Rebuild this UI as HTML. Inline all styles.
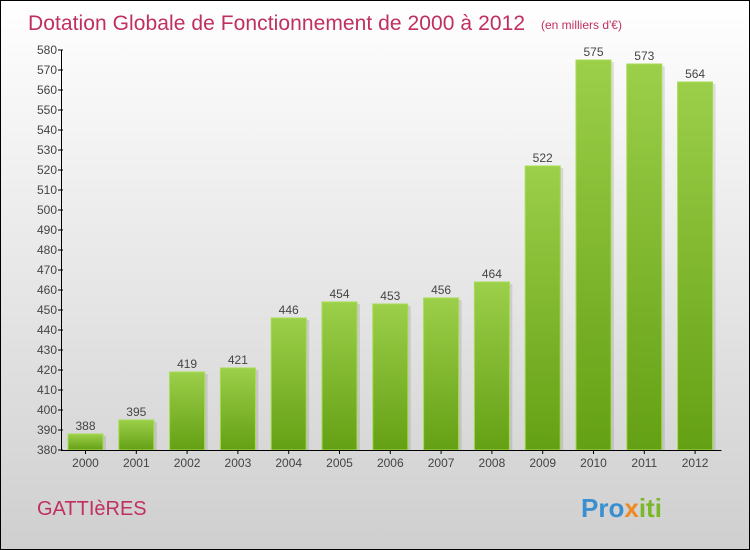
<!DOCTYPE html>
<html><head><meta charset="utf-8"><style>
body{margin:0}
#c{width:748px;height:548px;border:1px solid #000;background:linear-gradient(#ffffff,#cfcfcf);position:relative;overflow:hidden;font-family:"Liberation Sans",sans-serif}
</style></head><body>
<div id="c">
<svg id="s" width="748" height="548" xmlns="http://www.w3.org/2000/svg">
<defs><linearGradient id="g" x1="0" y1="0" x2="0" y2="1"><stop offset="0" stop-color="#9ccf4a"/><stop offset="1" stop-color="#64a014"/></linearGradient></defs>
<text x="27" y="29" font-size="21" fill="#c0305e" textLength="497">Dotation Globale de Fonctionnement de 2000 à 2012</text>
<text x="540" y="28" font-size="12" fill="#c0305e">(en milliers d'€)</text>
<text x="36" y="514" font-size="20" fill="#c0305e">GATTIèRES</text>
<text x="580" y="516" font-size="26" font-weight="bold" fill="#3a8fd0">Pro<tspan fill="#f08a20">x</tspan><tspan fill="#7ab82a">iti</tspan></text>
<g id="plot"></g>
</svg></div>
<script>
const years=["2000","2001","2002","2003","2004","2005","2006","2007","2008","2009","2010","2011","2012"];
const values=[388,395,419,421,446,454,453,456,464,522,575,573,564];
const yTicks=[380,390,400,410,420,430,440,450,460,470,480,490,500,510,520,530,540,550,560,570,580];
const ns="http://www.w3.org/2000/svg",p=document.getElementById('plot');
const x0=60,slot=50.8,y=v=>449-(v-380)*2;
function el(t,a,txt){const e=document.createElementNS(ns,t);for(const k in a)e.setAttribute(k,a[k]);if(txt!=null)e.textContent=txt;p.appendChild(e);return e;}
values.forEach((v,i)=>{const bx=x0+7+i*slot;
const sh=el('rect',{x:bx+3,y:y(v)+2,width:35,height:449-y(v)-2,fill:'#000',opacity:0.1});


const r=el('rect',{x:bx,y:y(v),width:35,height:449-y(v),fill:'url(#g)',stroke:'#a6dc50','stroke-width':1});


const t=el('text',{x:bx+17.5,y:y(v)-4,'font-size':12,'text-anchor':'middle',fill:'#444'},v);


const xl=el('text',{x:bx+17.5,y:466,'font-size':12,'text-anchor':'middle',fill:'#444'},years[i]);


el('line',{x1:bx+17.5,x2:bx+17.5,y1:449,y2:453,stroke:'#000'});
});
yTicks.forEach(v=>{el('line',{x1:57,x2:62,y1:y(v),y2:y(v),stroke:'#000'});
const t=el('text',{x:56,y:y(v)+4,'font-size':12,'text-anchor':'end',fill:'#444'},v);

});
const ya=el('line',{x1:60.5,x2:60.5,y1:y(580),y2:449,stroke:'#000'});


const xa=el('line',{x1:60,x2:x0+13*slot,y1:449.5,y2:449.5,stroke:'#000'});


</script></body></html>
